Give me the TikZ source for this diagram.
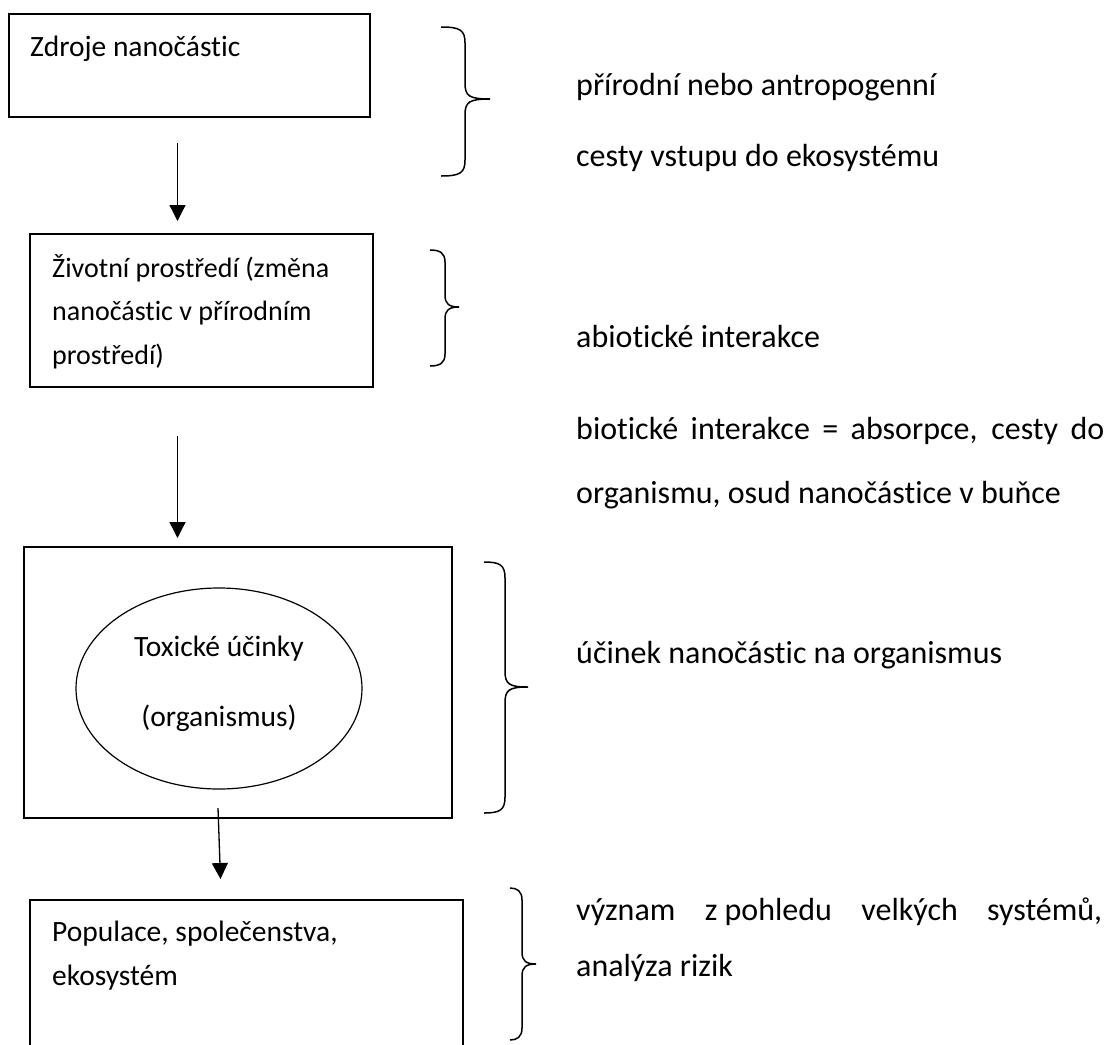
\documentclass[tikz,border=0pt]{standalone}
\usepackage{fontspec}
\setmainfont{Carlito}[Ligatures=NoCommon]
\usetikzlibrary{arrows.meta,shapes.geometric}
\newcommand\mybrace[7]{%
  \draw[brc] (#1,#4) .. controls ({#2-5},#4) and (#2,{#4+3}) .. (#2,{#4+#7})
    -- (#2,{#5-#7}) .. controls (#2,{#5-3}) and ({#2+4},#5) .. (#3,#5)
    .. controls ({#2+4},#5) and (#2,{#5+3}) .. (#2,{#5+#7})
    -- (#2,{#6-#7}) .. controls (#2,{#6-3}) and ({#2-5},#6) .. (#1,#6);}
\begin{document}
\begin{tikzpicture}[x=1pt,y=-1pt,
  box/.style={draw, line width=1.5pt, anchor=north west, outer sep=0pt, inner sep=0pt},
  ell/.style={draw, ellipse, line width=1.2pt, inner sep=0pt, outer sep=0pt},
  txt/.style={anchor=base west, inner sep=0pt, font=\fontsize{29.5}{34}\selectfont},
  btxt/.style={anchor=base west, inner sep=0pt, font=\fontsize{28}{34}\selectfont},
  rtxt/.style={anchor=base west, inner sep=0pt, font=\fontsize{32}{38}\selectfont},
  ctxt/.style={anchor=base, inner sep=0pt, font=\fontsize{29.5}{34}\selectfont},
  arr/.style={line width=1.3pt, -{Triangle[length=16pt,width=16pt]}},
  brc/.style={line width=1.5pt}]
\clip (0,0) rectangle (1110,1044);
\useasboundingbox (0,0) rectangle (1110,1044);
% boxes
\node[box, minimum width=361pt, minimum height=103pt] (b1) at (9,14) {};
\node[box, minimum width=343pt, minimum height=153pt] (b2) at (30,234) {};
\node[box, minimum width=428pt, minimum height=271pt] (b3) at (24,547) {};
\node[box, minimum width=433pt, minimum height=200pt] (b4) at (30,900) {};
\node[ell, minimum width=286pt, minimum height=201pt] (e1) at (219,688.5) {};
% box texts
\node[txt] (t1) at (30,56) {Zdroje nanočástic};
\node[btxt] (t2a) at (52,277) {Životní prostředí (změna};
\node[btxt] (t2b) at (52,320) {nanočástic v přírodním};
\node[btxt] (t2c) at (52,364) {prostředí)};
\node[ctxt] (t3a) at (219,656) {Toxické účinky};
\node[ctxt] (t3b) at (219,726) {(organismus)};
\node[txt] (t4a) at (52,941) {Populace, společenstva,};
\node[txt] (t4b) at (52,985) {ekosystém};
% arrows
\coordinate (a1s) at (177.5,143); \coordinate (a1e) at (177.5,221);
\coordinate (a2s) at (177.5,436); \coordinate (a2e) at (177.5,538);
\coordinate (a3s) at (218,808); \coordinate (a3e) at (220.5,879);
\draw[arr] (a1s) -- (a1e);
\draw[arr] (a2s) -- (a2e);
\draw[arr] (a3s) -- (a3e);
% braces
\mybrace{441}{465}{490}{27}{99}{176}{16}
\mybrace{430}{445}{459}{250}{307}{366}{12}
\mybrace{484}{505}{528}{562}{687}{813}{16}
\mybrace{510}{522}{536}{888}{964}{1040}{12}
% right texts
\node[rtxt] (r1) at (576,95) {přírodní nebo antropogenní};
\node[rtxt] (r2) at (576,166) {cesty vstupu do ekosystému};
\node[rtxt] (r3) at (576,347) {abiotické interakce};
\node[rtxt] (r4) at (576,439) {\makebox[528pt][s]{biotické interakce = absorpce, cesty do}};
\node[rtxt] (r5) at (576,503) {organismu, osud nanočástice v buňce};
\node[rtxt] (r6) at (576,663) {účinek nanočástic na organismus};
\node[rtxt] (r7) at (576,920) {\makebox[526pt][l]{význam\hfill z\ pohledu\hfill velkých\hfill systémů,}};
\node[rtxt] (r8) at (576,976) {analýza rizik};
\end{tikzpicture}
\end{document}
